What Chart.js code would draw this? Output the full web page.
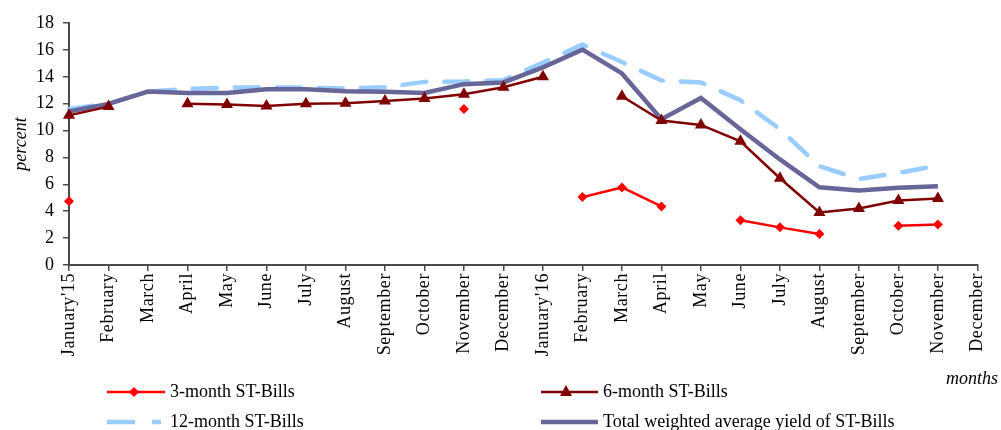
<!DOCTYPE html>
<html>
<head>
<meta charset="utf-8">
<title>ST-Bills yields</title>
<script src="https://cdn.jsdelivr.net/npm/chart.js@4.4.1/dist/chart.umd.min.js"></script>
<style>
  html, body { margin: 0; padding: 0; background: #ffffff; }
  #wrap { width: 1001px; height: 430px; }
</style>
</head>
<body>
<div id="wrap"><canvas id="chart" width="1001" height="430"></canvas></div>
<script>
// Months on the horizontal axis
const months = ["January'15", "February", "March", "April", "May", "June", "July", "August",
  "September", "October", "November", "December", "January'16", "February", "March", "April",
  "May", "June", "July", "August", "September", "October", "November", "December"];

// Yields, percent (null = no auction that month)
const bill3m = [4.75, null, null, null, null, null, null, null, null, null, 11.6, null,
  null, 5.05, 5.77, 4.36, null, 3.33, 2.8, 2.3, null, 2.92, 3.02, null];
const bill6m = [11.13, 11.78, null, 12.0, 11.93, 11.82, 12.0, 12.03, 12.2, 12.38, 12.7, 13.22,
  14.0, null, 12.55, 10.75, 10.42, 9.2, 6.45, 3.9, 4.2, 4.8, 4.95, null];
const bill12m = [11.6, 12.0, 12.9, 13.1, 13.2, 13.2, 13.2, 13.12, 13.22, 13.62, 13.65, 13.75,
  15.05, 16.4, 15.1, 13.72, 13.58, 12.25, 10.1, 7.35, 6.4, 6.85, 7.4, null];
const totalAvg = [11.42, 11.98, 12.9, 12.8, 12.8, 13.08, 13.08, 12.92, 12.88, 12.8, 13.45, 13.58,
  14.7, 16.02, 14.25, 10.85, 12.42, 10.1, 7.85, 5.78, 5.55, 5.75, 5.85, null];

const yTicks = [0, 2, 4, 6, 8, 10, 12, 14, 16, 18];

const seriesNames = ["3-month ST-Bills", "6-month ST-Bills", "12-month ST-Bills",
  "Total weighted average yield of ST-Bills"];

const SERIF = "'Liberation Serif', 'Times New Roman', serif";
const AXIS = '#4a4a4a';
const RED = '#ff0000', MAROON = '#800000', SKY = '#99ccff', SLATE = '#666699';

// Slightly spaced-out month names on the rotated x labels
const spacedMonthLabels = {
  id: 'spacedMonthLabels',
  afterLayout(chart) {
    const s = chart.scales.x;
    if (s._spaced) return;
    const orig = s.drawLabels.bind(s);
    s.drawLabels = function (area) {
      const c = this.ctx;
      const prev = c.letterSpacing;
      c.letterSpacing = '0.6px';
      orig(area);
      c.letterSpacing = prev || '0px';
    };
    s._spaced = true;
  }
};

// Two-column legend underneath the chart plus the "months" axis note
const bottomLegend = {
  id: 'bottomLegend',
  afterDraw(chart) {
    const ctx = chart.ctx;
    ctx.save();
    ctx.font = '18px ' + SERIF;
    ctx.fillStyle = '#000';
    ctx.textBaseline = 'middle';
    ctx.textAlign = 'left';

    const line = (x1, x2, y, color, w, dash) => {
      ctx.beginPath();
      ctx.setLineDash(dash || []);
      ctx.lineCap = dash ? 'round' : 'butt';
      ctx.strokeStyle = color;
      ctx.lineWidth = w;
      ctx.moveTo(x1, y); ctx.lineTo(x2, y);
      ctx.stroke();
      ctx.setLineDash([]);
    };

    // 3-month
    let y = 392;
    line(107, 165, y, RED, 2.5);
    ctx.fillStyle = RED;
    ctx.beginPath();
    ctx.moveTo(134, y - 5); ctx.lineTo(139, y); ctx.lineTo(134, y + 5); ctx.lineTo(129, y);
    ctx.closePath(); ctx.fill();
    ctx.fillStyle = '#000';
    ctx.fillText(seriesNames[0], 170, y);

    // 6-month
    line(541, 598, y, MAROON, 2.5);
    ctx.fillStyle = MAROON;
    ctx.beginPath();
    ctx.moveTo(566, y - 7); ctx.lineTo(572, y + 4); ctx.lineTo(560, y + 4);
    ctx.closePath(); ctx.fill();
    ctx.fillStyle = '#000';
    ctx.fillText(seriesNames[1], 603, y);

    // 12-month
    y = 422;
    line(107, 135, y, SKY, 4.5);
    line(152, 161, y, SKY, 4.5);
    ctx.fillText(seriesNames[2], 170, y);

    // total weighted average
    line(541, 598, y, SLATE, 4.5);
    ctx.fillText(seriesNames[3], 603, y);

    ctx.font = 'italic 18px ' + SERIF;
    ctx.textAlign = 'right';
    ctx.fillText('months', 998, 379);
    ctx.restore();
  }
};

new Chart(document.getElementById('chart'), {
  type: 'line',
  data: {
    labels: months,
    datasets: [
      {
        label: seriesNames[0], data: bill3m, order: 0,
        borderColor: RED, backgroundColor: RED, borderWidth: 2.5,
        pointStyle: 'rectRot', pointRadius: 5, pointHoverRadius: 5, pointBorderWidth: 0,
        spanGaps: false, tension: 0
      },
      {
        label: seriesNames[1], data: bill6m, order: 1,
        borderColor: MAROON, backgroundColor: MAROON, borderWidth: 2.5,
        pointStyle: 'triangle', pointRadius: 7, pointHoverRadius: 7, pointBorderWidth: 0,
        spanGaps: false, tension: 0
      },
      {
        label: seriesNames[3], data: totalAvg, order: 2,
        borderColor: SLATE, backgroundColor: SLATE, borderWidth: 4.5,
        pointRadius: 0, pointHoverRadius: 0, tension: 0
      },
      {
        label: seriesNames[2], data: bill12m, order: 3,
        borderColor: SKY, backgroundColor: SKY, borderWidth: 4.5,
        borderDash: [24, 18], borderCapStyle: 'round',
        pointRadius: 0, pointHoverRadius: 0, tension: 0
      }
    ]
  },
  options: {
    responsive: false,
    animation: false,
    devicePixelRatio: 1,
    layout: { padding: { top: 23, right: 22, bottom: 0, left: 0 } },
    plugins: {
      legend: { display: false },
      tooltip: { enabled: false }
    },
    scales: {
      x: {
        type: 'category',
        offset: false,
        grid: { drawOnChartArea: false, drawTicks: true, tickLength: 6, color: AXIS, lineWidth: 1.5 },
        border: { display: true, color: AXIS, width: 2 },
        ticks: {
          autoSkip: false, maxRotation: 90, minRotation: 90, padding: 2,
          color: '#000', font: { family: SERIF, size: 18 }
        },
        afterFit(scale) { scale.height = 165; }
      },
      y: {
        min: 0, max: 18,
        afterBuildTicks(scale) { scale.ticks = yTicks.map(v => ({ value: v })); },
        grid: { drawOnChartArea: false, drawTicks: true, tickLength: 6, color: AXIS, lineWidth: 1.5 },
        border: { display: true, color: AXIS, width: 2 },
        ticks: { padding: 9, color: '#000', font: { family: SERIF, size: 18 } },
        title: {
          display: true, text: 'percent', color: '#000',
          font: { family: SERIF, size: 18, style: 'italic' },
          padding: { top: 10, bottom: 0 }
        },
        afterFit(scale) { scale.width = 69; }
      }
    }
  },
  plugins: [spacedMonthLabels, bottomLegend]
});
</script>
</body>
</html>
